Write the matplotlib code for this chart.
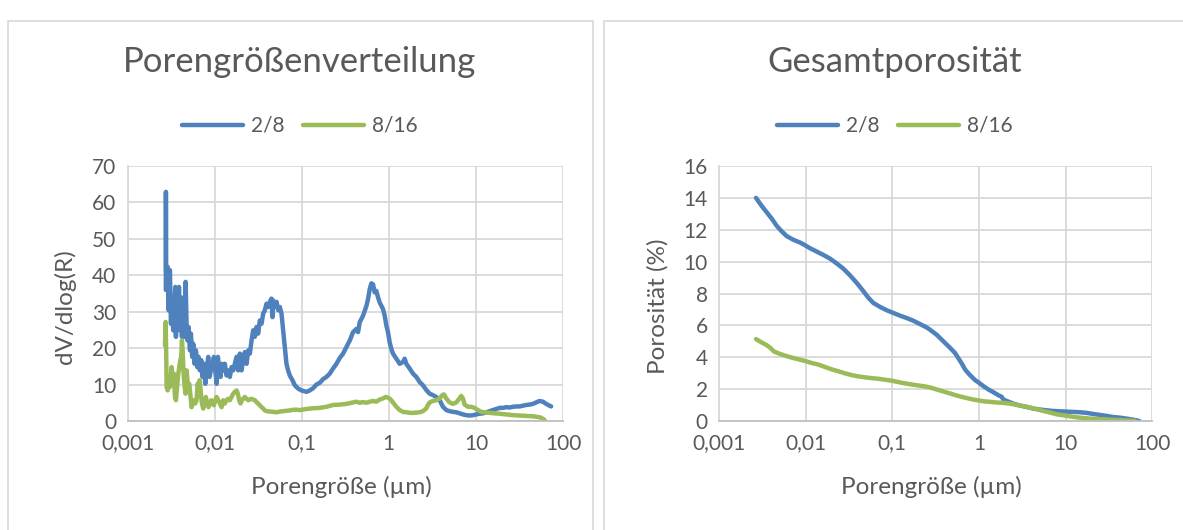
import numpy as np
import matplotlib
matplotlib.use("Agg")
import matplotlib.pyplot as plt
from matplotlib.patches import Rectangle

plt.rcParams["font.family"] = ["Lato", "DejaVu Sans"]

# ---------------------------------------------------------------------------
# Data: log10 of pore size (µm) and measured values
# ---------------------------------------------------------------------------
# Pore size distribution dV/dlog(R), sample 2/8
psd_logd_28 = [
    -2.560, -2.559, -2.557, -2.551, -2.539, -2.528, -2.513, -2.501, -2.490, -2.475,
    -2.463, -2.451, -2.444, -2.432, -2.421, -2.409, -2.398, -2.387, -2.375, -2.360,
    -2.348, -2.333, -2.321, -2.310, -2.299, -2.283, -2.272, -2.257, -2.245, -2.230,
    -2.214, -2.199, -2.184, -2.169, -2.153, -2.138, -2.123, -2.107, -2.092, -2.073,
    -2.058, -2.042, -2.023, -2.008, -1.993, -1.977, -1.962, -1.947, -1.932, -1.916,
    -1.901, -1.882, -1.863, -1.844, -1.825, -1.805, -1.786, -1.767, -1.748, -1.729,
    -1.710, -1.691, -1.672, -1.653, -1.633, -1.614, -1.595, -1.576, -1.557, -1.538,
    -1.519, -1.500, -1.481, -1.461, -1.442, -1.423, -1.404, -1.385, -1.366, -1.347,
    -1.335, -1.328, -1.308, -1.289, -1.270, -1.251, -1.232, -1.213, -1.194, -1.175,
    -1.156, -1.137, -1.106, -1.079, -1.041, -1.003, -0.945, -0.907, -0.869, -0.831,
    -0.792, -0.754, -0.716, -0.678, -0.640, -0.601, -0.563, -0.525, -0.487, -0.448,
    -0.410, -0.372, -0.353, -0.334, -0.296, -0.257, -0.238, -0.219, -0.200, -0.181,
    -0.162, -0.143, -0.123, -0.104, -0.085, -0.066, -0.047, -0.028, -0.009, 0.010,
    0.029, 0.048, 0.087, 0.125, 0.163, 0.182, 0.201, 0.240, 0.278, 0.316,
    0.354, 0.392, 0.431, 0.469, 0.507, 0.545, 0.584, 0.622, 0.660, 0.698,
    0.737, 0.775, 0.813, 0.851, 0.890, 0.928, 0.966, 1.004, 1.042, 1.080,
    1.119, 1.157, 1.195, 1.233, 1.272, 1.310, 1.348, 1.386, 1.425, 1.463,
    1.501, 1.539, 1.577, 1.616, 1.654, 1.692, 1.730, 1.769, 1.807, 1.845,
    1.864,
]
psd_28 = [
    36.0, 62.9, 42.0, 35.9, 42.3, 30.4, 41.4, 26.7, 32.2, 24.9,
    31.3, 36.8, 23.1, 34.9, 26.7, 36.8, 24.9, 34.0, 23.1, 30.4,
    23.1, 38.2, 25.8, 22.1, 25.8, 19.4, 24.0, 17.6, 21.2, 15.7,
    19.4, 14.8, 17.6, 13.9, 16.7, 12.1, 15.7, 10.2, 13.9, 17.6,
    12.1, 13.9, 15.7, 17.6, 13.9, 10.2, 17.6, 13.9, 12.1, 15.7,
    13.9, 15.7, 12.5, 13.9, 12.1, 14.8, 13.9, 15.7, 17.6, 13.9,
    18.5, 13.9, 16.7, 18.9, 15.7, 19.4, 18.5, 22.1, 24.9, 23.1,
    25.8, 24.0, 27.6, 26.7, 29.5, 30.4, 32.2, 31.3, 32.7, 33.6,
    28.5, 33.1, 31.3, 32.7, 30.4, 31.3, 29.5, 24.9, 20.3, 15.7,
    13.9, 12.5, 11.2, 9.8, 8.9, 8.4, 8.0, 8.4, 9.0, 10.0,
    10.5, 11.5, 12.1, 13.0, 14.4, 15.7, 17.3, 18.5, 20.3, 22.1,
    24.4, 25.3, 24.4, 27.1, 28.9, 31.6, 33.5, 36.2, 37.8, 37.5,
    35.3, 35.7, 33.9, 32.5, 31.6, 30.7, 28.9, 26.2, 24.4, 21.6,
    19.8, 18.5, 17.1, 15.7, 16.2, 17.1, 15.7, 14.4, 13.0, 12.1,
    10.7, 9.8, 8.5, 7.5, 7.1, 6.6, 5.7, 3.9, 3.0, 2.7,
    2.5, 2.4, 2.1, 1.8, 1.6, 1.5, 1.6, 1.8, 2.0, 2.1,
    2.4, 2.7, 3.0, 3.3, 3.6, 3.6, 3.8, 3.7, 3.9, 4.0,
    4.0, 4.2, 4.4, 4.5, 4.7, 5.1, 5.5, 5.3, 4.7, 4.2,
    4.0,
]

# Pore size distribution dV/dlog(R), sample 8/16
psd_logd_816 = [
    -2.570, -2.562, -2.555, -2.551, -2.539, -2.528, -2.513, -2.494, -2.482, -2.467,
    -2.455, -2.444, -2.428, -2.417, -2.406, -2.394, -2.383, -2.375, -2.367, -2.356,
    -2.344, -2.333, -2.321, -2.306, -2.291, -2.276, -2.264, -2.253, -2.237, -2.222,
    -2.207, -2.195, -2.184, -2.172, -2.161, -2.146, -2.130, -2.115, -2.100, -2.084,
    -2.069, -2.054, -2.039, -2.023, -2.008, -1.993, -1.977, -1.958, -1.939, -1.920,
    -1.901, -1.882, -1.863, -1.844, -1.825, -1.805, -1.786, -1.767, -1.748, -1.733,
    -1.718, -1.702, -1.687, -1.672, -1.653, -1.633, -1.614, -1.595, -1.576, -1.557,
    -1.538, -1.519, -1.500, -1.481, -1.461, -1.442, -1.423, -1.404, -1.366, -1.328,
    -1.289, -1.251, -1.213, -1.175, -1.137, -1.098, -1.060, -1.022, -0.945, -0.869,
    -0.792, -0.716, -0.640, -0.563, -0.487, -0.410, -0.372, -0.334, -0.296, -0.257,
    -0.219, -0.181, -0.143, -0.104, -0.066, -0.036, -0.009, 0.018, 0.048, 0.087,
    0.125, 0.163, 0.201, 0.259, 0.316, 0.354, 0.392, 0.431, 0.450, 0.469,
    0.507, 0.545, 0.584, 0.614, 0.633, 0.660, 0.698, 0.737, 0.775, 0.805,
    0.832, 0.851, 0.870, 0.909, 0.947, 0.985, 1.023, 1.061, 1.100, 1.138,
    1.176, 1.214, 1.272, 1.348, 1.425, 1.501, 1.577, 1.654, 1.711, 1.749,
    1.776, 1.795,
]
psd_816 = [
    20.8, 27.2, 17.6, 9.3, 8.4, 11.2, 9.3, 14.8, 10.2, 13.0,
    6.6, 5.7, 10.2, 13.0, 14.8, 16.7, 17.6, 22.1, 19.4, 13.0,
    9.3, 7.5, 13.9, 9.3, 10.2, 6.6, 3.8, 4.8, 5.7, 4.8,
    5.7, 10.2, 9.3, 11.2, 8.4, 4.8, 3.4, 5.7, 6.6, 4.8,
    3.8, 4.8, 5.7, 5.2, 4.3, 5.7, 6.6, 5.7, 4.8, 3.8,
    5.7, 4.8, 5.7, 6.1, 5.7, 6.6, 7.5, 8.0, 8.4, 7.5,
    5.7, 4.8, 5.7, 6.1, 6.6, 6.1, 5.7, 5.9, 6.1, 5.9,
    5.7, 5.2, 4.8, 4.3, 3.8, 3.4, 2.9, 2.7, 2.6, 2.5,
    2.4, 2.6, 2.7, 2.8, 2.9, 3.1, 3.1, 3.0, 3.3, 3.5,
    3.6, 3.9, 4.4, 4.5, 4.7, 5.1, 5.3, 5.0, 5.2, 5.0,
    5.3, 5.5, 5.3, 5.9, 6.2, 6.6, 6.4, 6.0, 5.1, 3.9,
    3.0, 2.5, 2.4, 2.2, 2.3, 2.4, 2.7, 3.5, 4.4, 5.1,
    5.5, 5.7, 6.2, 7.1, 7.3, 6.2, 5.1, 4.7, 5.1, 6.0,
    6.9, 6.2, 4.5, 3.9, 3.9, 3.6, 3.0, 2.5, 2.4, 2.3,
    2.2, 2.1, 2.0, 1.8, 1.6, 1.5, 1.4, 1.3, 1.1, 0.9,
    0.5, 0.0,
]

# Cumulative total porosity (%), sample 2/8
por_logd_28 = [
    -2.572, -2.507, -2.449, -2.391, -2.334, -2.276, -2.218, -2.141, -2.065, -2.007,
    -1.949, -1.872, -1.795, -1.719, -1.642, -1.565, -1.488, -1.411, -1.334, -1.276,
    -1.219, -1.142, -1.065, -0.988, -0.911, -0.834, -0.757, -0.680, -0.604, -0.565,
    -0.488, -0.411, -0.334, -0.277, -0.238, -0.200, -0.161, -0.123, -0.085, -0.046,
    0.000, 0.050, 0.108, 0.165, 0.223, 0.261, 0.281, 0.319, 0.396, 0.473,
    0.550, 0.627, 0.704, 0.780, 0.857, 0.934, 1.011, 1.088, 1.165, 1.242,
    1.319, 1.396, 1.473, 1.549, 1.626, 1.703, 1.780, 1.849,
]
por_28 = [
    14.0, 13.5, 13.1, 12.7, 12.25, 11.9, 11.6, 11.37, 11.2, 11.03,
    10.84, 10.63, 10.42, 10.19, 9.89, 9.56, 9.14, 8.67, 8.15, 7.73,
    7.41, 7.16, 6.95, 6.78, 6.61, 6.46, 6.29, 6.08, 5.87, 5.73,
    5.41, 5.0, 4.59, 4.27, 3.94, 3.62, 3.24, 2.99, 2.78, 2.57,
    2.40, 2.19, 1.98, 1.81, 1.62, 1.52, 1.35, 1.26, 1.09, 0.97,
    0.88, 0.78, 0.72, 0.67, 0.63, 0.61, 0.59, 0.57, 0.55, 0.51,
    0.44, 0.38, 0.32, 0.25, 0.21, 0.15, 0.08, 0.0,
]

# Cumulative total porosity (%), sample 8/16
por_logd_816 = [
    -2.572, -2.507, -2.449, -2.403, -2.365, -2.315, -2.238, -2.161, -2.084, -2.007,
    -1.930, -1.853, -1.776, -1.699, -1.622, -1.546, -1.469, -1.392, -1.315, -1.238,
    -1.161, -1.084, -1.007, -0.930, -0.854, -0.777, -0.700, -0.623, -0.565, -0.488,
    -0.411, -0.334, -0.258, -0.181, -0.104, -0.027, 0.050, 0.127, 0.204, 0.281,
    0.357, 0.434, 0.511, 0.588, 0.665, 0.742, 0.819, 0.896, 0.973, 1.050,
    1.127, 1.204, 1.280, 1.357, 1.434, 1.511, 1.588, 1.665, 1.742, 1.799,
]
por_816 = [
    5.14, 4.93, 4.76, 4.57, 4.36, 4.25, 4.10, 3.98, 3.87, 3.77,
    3.64, 3.54, 3.39, 3.24, 3.12, 2.99, 2.88, 2.80, 2.74, 2.69,
    2.65, 2.59, 2.53, 2.44, 2.36, 2.29, 2.23, 2.17, 2.10, 1.98,
    1.85, 1.73, 1.60, 1.49, 1.39, 1.31, 1.24, 1.20, 1.16, 1.14,
    1.09, 1.01, 0.93, 0.84, 0.74, 0.63, 0.53, 0.42, 0.36, 0.29,
    0.23, 0.19, 0.15, 0.13, 0.11, 0.08, 0.06, 0.04, 0.02, 0.0,
]

series_labels = ["2/8", "8/16"]
x_ticks = [0.001, 0.01, 0.1, 1, 10, 100]
x_tick_labels = ["0,001", "0,01", "0,1", "1", "10", "100"]

# ---------------------------------------------------------------------------
# Styling
# ---------------------------------------------------------------------------
BLUE = "#4F81BD"
GREEN = "#9BBB59"
TEXT = "#595959"
GRID = "#D9D9D9"
AXIS = "#BFBFBF"
LW = 3.2

W, H = 1183, 530
fig = plt.figure(figsize=(W / 100, H / 100), dpi=100)
fig.patch.set_facecolor("white")


def fx(px):
    return px / W


def fy(py):
    return 1 - py / H


# chart frames
for x0, x1 in [(7.5, 592.5), (603.5, 1190)]:
    fig.patches.append(Rectangle((fx(x0), fy(545)), fx(x1 - x0), (535 - 10.5) / H,
                                 transform=fig.transFigure, fill=False,
                                 edgecolor=GRID, linewidth=1.2))

AX_TOP, AX_BOTTOM = 166, 421


def make_axes(left_px, right_px, ymax, ystep, title, ylabel, data, cx, ylab_px):
    width_px = right_px - left_px
    ax = fig.add_axes([fx(left_px), fy(AX_BOTTOM), fx(width_px),
                       (AX_BOTTOM - AX_TOP) / H])
    for logd, vals, col, lab in data:
        ax.plot(10 ** np.asarray(logd), vals, color=col, lw=LW, label=lab,
                solid_joinstyle="round", solid_capstyle="round")
    ax.set_xscale("log")
    ax.set_xlim(0.001, 100)
    ax.set_ylim(0, ymax)
    ax.set_xticks(x_ticks)
    ax.set_xticklabels(x_tick_labels)
    ax.minorticks_off()
    ax.set_yticks(np.arange(0, ymax + ystep / 2, ystep))
    ax.tick_params(length=0, labelsize=15, colors=TEXT)
    ax.tick_params(axis="x", pad=9)
    ax.tick_params(axis="y", pad=8)
    ax.grid(True, color=GRID, lw=1.3)
    ax.set_axisbelow(True)
    for s in ["top", "right"]:
        ax.spines[s].set_visible(False)
    ax.spines["left"].set_color(GRID)
    ax.spines["left"].set_linewidth(1.3)
    ax.spines["bottom"].set_color(AXIS)
    ax.spines["bottom"].set_linewidth(1.3)
    ax.set_xlabel("Porengröße (µm)", fontsize=17.5, color=TEXT, va="center")
    ax.xaxis.set_label_coords(0.49, (AX_BOTTOM - 487) / (AX_BOTTOM - AX_TOP))
    ax.set_ylabel(ylabel, fontsize=17.5, color=TEXT, va="center")
    ax.yaxis.set_label_coords((ylab_px - left_px) / width_px, 0.45)
    fig.text(fx(cx), fy(62), title, fontsize=25, color=TEXT, ha="center", va="center")
    fig.legend(handles=ax.get_lines(), labels=series_labels, loc="center",
               bbox_to_anchor=(fx(cx), fy(126)), ncol=2, frameon=False,
               fontsize=15, labelcolor=TEXT, handlelength=2.9, handletextpad=0.4,
               columnspacing=0.9)
    return ax


make_axes(127.5, 563, 70, 10, "Porengrößenverteilung", "dV/dlog(R)",
          [(psd_logd_28, psd_28, BLUE, series_labels[0]),
           (psd_logd_816, psd_816, GREEN, series_labels[1])], 300, 65)
make_axes(718.9, 1152.4, 16, 2, "Gesamtporosität", "Porosität (%)",
          [(por_logd_28, por_28, BLUE, series_labels[0]),
           (por_logd_816, por_816, GREEN, series_labels[1])], 895, 658)

fig.savefig("out.png", dpi=100, facecolor="white")
